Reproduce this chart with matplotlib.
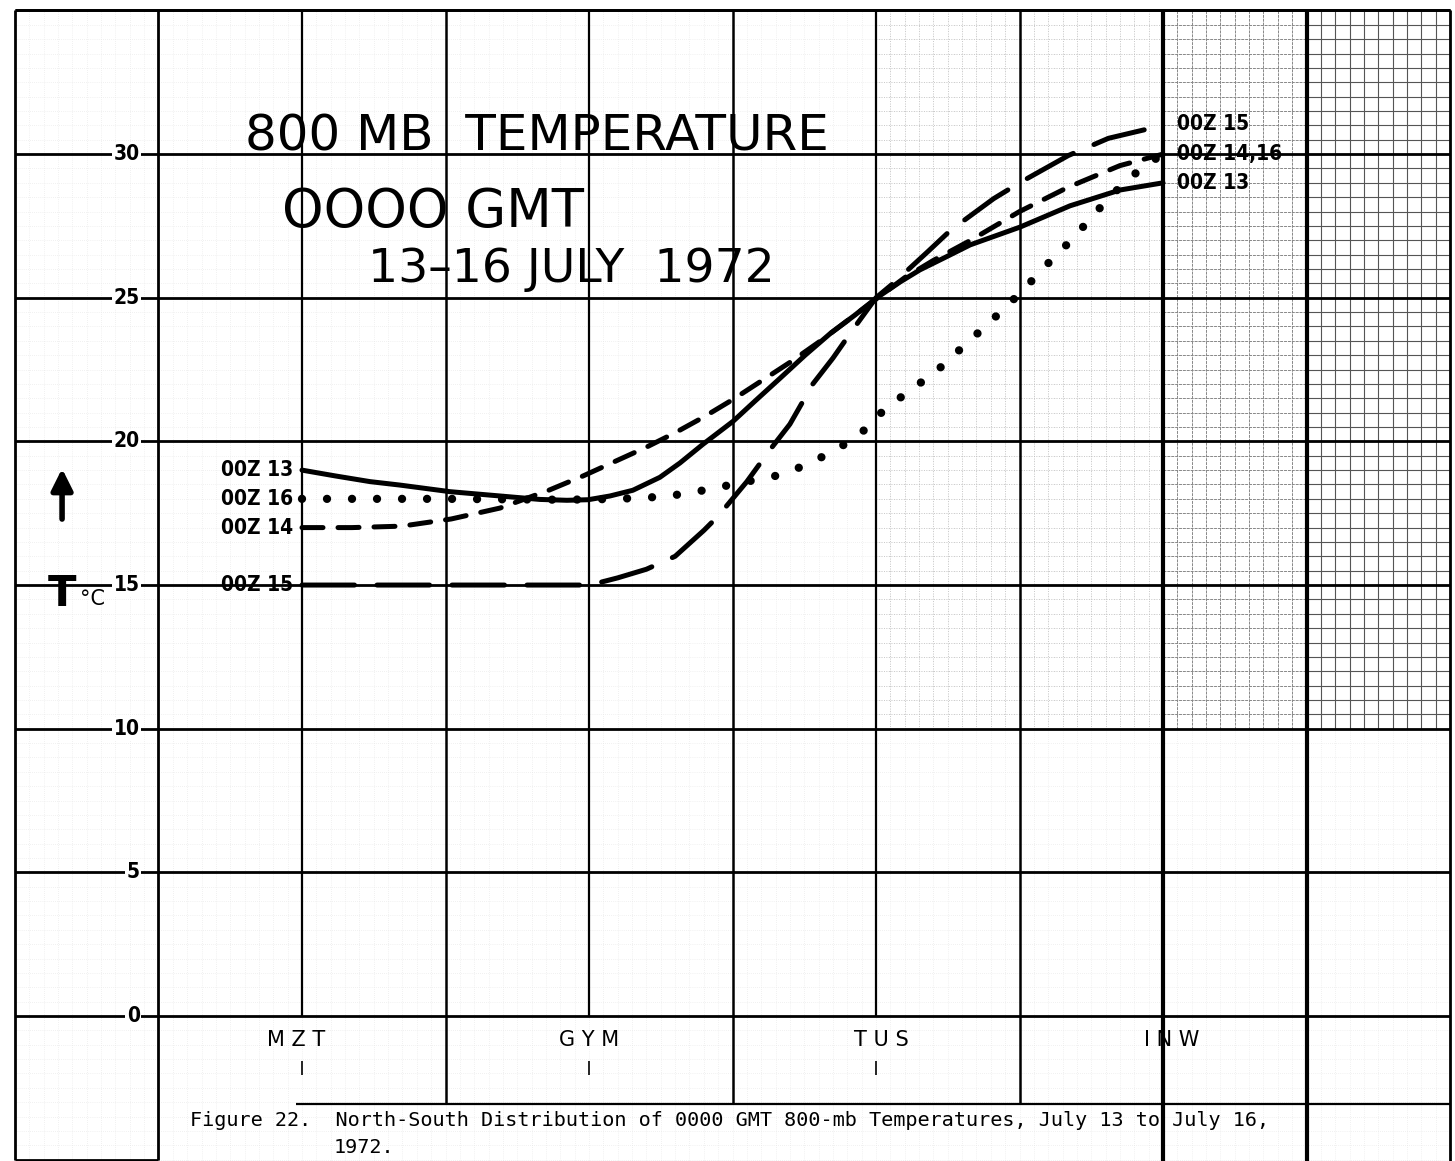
import matplotlib
matplotlib.use('Agg')
import matplotlib.pyplot as plt
import numpy as np

# ---------------- data ----------------
stations = ['M Z T', 'G Y M', 'T U S', 'I N W']
station_pos = [0.0, 1.0, 2.0, 3.0]
y_tick_vals = [0, 5, 10, 15, 20, 25, 30]

# 00Z 13 (solid)
x13 = [0.0, 0.115, 0.237, 0.341, 0.516, 0.69, 0.829, 0.923, 0.997, 1.073, 1.153, 1.247,
       1.317, 1.397, 1.502, 1.578, 1.666, 1.753, 1.84, 1.927, 2.003, 2.084, 2.153, 2.24,
       2.328, 2.502, 2.676, 2.85, 3.0]
t13 = [19.0, 18.8, 18.6, 18.48, 18.25, 18.1, 17.98, 17.95, 17.97, 18.1, 18.3, 18.75,
       19.25, 19.9, 20.7, 21.4, 22.2, 23.0, 23.75, 24.4, 25.0, 25.55, 25.97, 26.4,
       26.84, 27.46, 28.2, 28.75, 29.0]

# 00Z 14 (short dashes)
x14 = [0.0, 0.174, 0.348, 0.52, 0.69, 0.86, 0.98, 1.09, 1.2, 1.3, 1.4, 1.5, 1.6, 1.7,
       1.8, 1.9, 2.0, 2.1, 2.2, 2.33, 2.5, 2.67, 2.85, 3.0]
t14 = [17.0, 17.0, 17.05, 17.3, 17.68, 18.3, 18.8, 19.3, 19.8, 20.3, 20.85, 21.45, 22.1,
       22.75, 23.45, 24.2, 24.95, 25.7, 26.3, 27.0, 28.0, 28.85, 29.6, 30.0]

# 00Z 15 (long dashes)
x15 = [0.0, 0.5, 1.0, 1.03, 1.1, 1.2, 1.3, 1.4, 1.45, 1.55, 1.63, 1.7, 1.78, 1.85, 1.92,
       2.0, 2.06, 2.18, 2.26, 2.41, 2.5, 2.67, 2.81, 3.0]
t15 = [15.0, 15.0, 15.0, 15.07, 15.25, 15.55, 16.0, 16.9, 17.4, 18.6, 19.7, 20.6, 22.0,
       22.9, 23.9, 25.0, 25.5, 26.6, 27.35, 28.45, 29.0, 29.95, 30.55, 31.0]

# 00Z 16 (dots)
x16 = [0.0, 0.5, 0.9, 1.0, 1.1, 1.25, 1.35, 1.45, 1.55, 1.65, 1.75, 1.82, 1.9, 1.96,
       2.0, 2.05, 2.12, 2.2, 2.26, 2.32, 2.38, 2.45, 2.52, 2.6, 2.66, 2.72, 2.8, 2.86,
       2.93, 3.0]
t16 = [18.0, 18.0, 17.97, 17.98, 18.0, 18.07, 18.2, 18.4, 18.6, 18.8, 19.15, 19.5, 19.95,
       20.4, 20.85, 21.25, 21.8, 22.35, 22.9, 23.45, 24.0, 24.65, 25.35, 26.2, 26.8,
       27.45, 28.35, 28.95, 29.55, 30.0]

left_labels = ['00Z 13', '00Z 16', '00Z 14', '00Z 15']
left_label_vals = [19.0, 18.0, 17.0, 15.0]
right_labels = ['00Z 15', '00Z 14,16', '00Z 13']
right_label_vals = [31.05, 30.0, 29.0]

title1 = '800 MB  TEMPERATURE'
title2 = 'OOOO GMT'
title3 = '13\u201316 JULY  1972'
caption1 = 'Figure 22.  North-South Distribution of 0000 GMT 800-mb Temperatures, July 13 to July 16,'
caption2 = '1972.'

# ---------------- figure ----------------
W, H = 1455, 1161
fig = plt.figure(figsize=(W / 100, H / 100), dpi=100)
ax = fig.add_axes([0, 0, 1, 1])
ax.set_xlim(-302 / 287, (W - 302) / 287)
ax.set_ylim(-(H - 1016) / 28.73, 1016 / 28.73)
ax.axis('off')

narrow = ['Liberation Sans Narrow', 'DejaVu Sans']

# minor grid (graph paper)
mx = np.arange(-1.0, 4.001, 0.05)
my = np.arange(-5.0, 35.001, 0.5)
ax.vlines(mx, -5, 35, colors='#e4e4e4', lw=0.5, linestyles=(0, (1, 2)), zorder=0)
ax.hlines(my, -1, 4, colors='#e4e4e4', lw=0.5, linestyles=(0, (1, 2)), zorder=0)
# mid-dense region
mx2 = mx[(mx >= 2.0) & (mx <= 3.0)]
my2 = my[(my >= 10) & (my <= 35)]
ax.vlines(mx2, 10, 35, colors='#bbbbbb', lw=0.6, linestyles=(0, (1, 2)), zorder=0)
ax.hlines(my2, 2.0, 3.0, colors='#bbbbbb', lw=0.6, linestyles=(0, (1, 2)), zorder=0)
# darker region at the right
mx3 = mx[(mx >= 3.0) & (mx <= 3.5)]
mx4 = mx[(mx >= 3.5)]
ax.vlines(mx3, 10, 35, colors='#888888', lw=0.7, linestyles=(0, (3, 1)), zorder=0)
ax.hlines(my2, 3.0, 3.5, colors='#888888', lw=0.7, linestyles=(0, (3, 1)), zorder=0)
ax.vlines(mx4, 10, 35, colors='#555555', lw=0.8, zorder=0)
ax.hlines(my2, 3.5, 4.0, colors='#555555', lw=0.8, zorder=0)

# major grid
for yv in np.arange(0, 35.1, 5):
    ax.hlines(yv, -1.0, 4.0, colors='black', lw=2.0, zorder=1)
ax.hlines(35, -1.0, 4.0, colors='black', lw=2.0, zorder=1)
ax.hlines(-5, -1.0, -0.5, colors='black', lw=2.0, zorder=1)
ax.hlines(-3.06, -0.02, 4.0, colors='black', lw=1.6, zorder=1)
for xv in [-1.0, -0.5]:
    ax.vlines(xv, -5, 35, colors='black', lw=2.0, zorder=1)
for xv in [0.0, 1.0, 2.0]:
    ax.vlines(xv, 0, 35, colors='black', lw=1.6, zorder=1)
for xv in [0.5, 1.5, 2.5]:
    ax.vlines(xv, -3.06, 35, colors='black', lw=1.8, zorder=1)
for xv in [3.0, 3.5]:
    ax.vlines(xv, -5.1, 35, colors='black', lw=3.0, zorder=1)
ax.vlines(4.0, -5.1, 35, colors='black', lw=2.0, zorder=1)

# small ticks below station names
for xv in station_pos[:3]:
    ax.vlines(xv, -2.05, -1.55, colors='black', lw=1.2, zorder=1)

# ---------------- curves ----------------
ax.plot(x13, t13, color='black', lw=3.6, solid_capstyle='round', zorder=3)
ax.plot(x14, t14, color='black', lw=3.6, linestyle=(0, (4.2, 3.0)),
        dash_capstyle='round', zorder=3)
ax.plot(x15, t15, color='black', lw=3.6, linestyle=(0, (10.5, 4.5)),
        dash_capstyle='round', zorder=3)
ax.plot(x16, t16, color='black', lw=6.0, linestyle=(0, (0.001, 3.0)),
        dash_capstyle='round', zorder=3)

# ---------------- labels ----------------
for lab, v in zip(left_labels, left_label_vals):
    ax.text(-0.03, v, lab, ha='right', va='center', fontsize=15, fontweight='bold',
            family=narrow, fontstretch='condensed', zorder=4)
for lab, v in zip(right_labels, right_label_vals):
    ax.text(3.05, v, lab, ha='left', va='center', fontsize=15, fontweight='bold',
            family=narrow, fontstretch='condensed', zorder=4)

for v in y_tick_vals:
    ax.text(-0.565, v, str(v), ha='right', va='center', fontsize=15, fontweight='bold',
            family=narrow, fontstretch='condensed', zorder=4,
            bbox=dict(facecolor='white', edgecolor='none', pad=1))

for s, xv in zip(stations, [-0.02, 1.0, 2.02, 3.03]):
    ax.text(xv, -0.85, s, ha='center', va='center', fontsize=15, fontweight='normal',
            family='DejaVu Sans', zorder=4)

# titles
ax.text(-0.2, 30.6, title1, ha='left', va='center', fontsize=36, family='DejaVu Sans',
        zorder=4)
ax.text(-0.07, 28.0, title2, ha='left', va='center', fontsize=38, family='DejaVu Sans',
        zorder=4)
ax.text(0.23, 26.0, title3, ha='left', va='center', fontsize=34, family='DejaVu Sans',
        zorder=4)

# T degC with arrow
ax.annotate('', xy=(-0.836, 19.15), xytext=(-0.836, 17.2),
            arrowprops=dict(arrowstyle='-|>', lw=4, color='black', mutation_scale=32))
ax.text(-0.836, 14.7, 'T', ha='center', va='center', fontsize=30, fontweight='bold',
        family='DejaVu Sans', zorder=4)
ax.text(-0.775, 14.5, '\u00b0C', ha='left', va='center', fontsize=15,
        family='DejaVu Sans', zorder=4)

# caption
ax.text(-0.39, -3.65, caption1, ha='left', va='center', fontsize=14.5,
        family='DejaVu Sans Mono', zorder=4)
ax.text(0.11, -4.56, caption2, ha='left', va='center', fontsize=14.5,
        family='DejaVu Sans Mono', zorder=4)

fig.savefig('out.png', dpi=100, facecolor='white')
